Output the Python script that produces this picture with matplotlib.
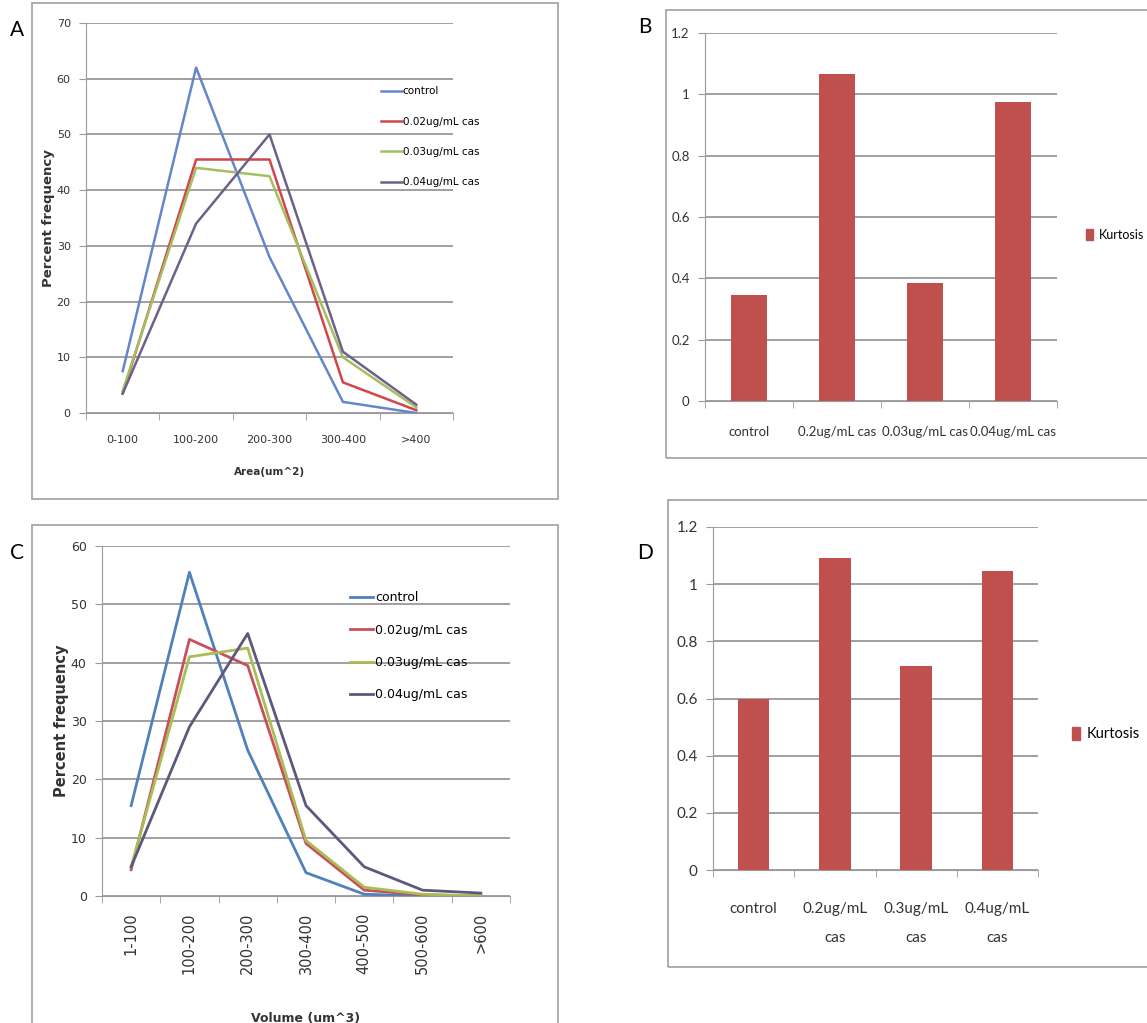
import matplotlib.pyplot as plt
from matplotlib.patches import Rectangle

# taille de l'image de référence, en pixels
W, H = 1147, 1023

# A : distribution des aires
area_bins = ["0-100", "100-200", "200-300", "300-400", ">400"]
area_control = [7.5, 62, 28, 2, 0]
area_002 = [3.5, 45.5, 45.5, 5.5, 0.5]
area_003 = [4, 44, 42.5, 10, 1]
area_004 = [3.5, 34, 50, 11, 1.5]

# C : distribution des volumes
vol_bins = ["1-100", "100-200", "200-300", "300-400", "400-500", "500-600", ">600"]
vol_control = [15.5, 55.5, 25, 4, 0.3, 0, 0]
vol_002 = [4.5, 44, 39.5, 9, 1, 0.2, 0]
vol_003 = [5, 41, 42.5, 9.5, 1.5, 0.3, 0]
vol_004 = [5, 29, 45, 15.5, 5, 1, 0.5]

series_labels = ["control", "0.02ug/mL cas", "0.03ug/mL cas", "0.04ug/mL cas"]

# B et D : kurtosis
kurt_b_labels = ["control", "0.2ug/mL cas", "0.03ug/mL cas", "0.04ug/mL cas"]
kurt_b = [0.345, 1.065, 0.385, 0.975]
kurt_d_labels = ["control", "0.2ug/mL\ncas", "0.3ug/mL\ncas", "0.4ug/mL\ncas"]
kurt_d = [0.60, 1.09, 0.715, 1.045]
kurt_yticks = ["0", "0.2", "0.4", "0.6", "0.8", "1", "1.2"]

BAR_COLOR = "#c0504d"
GRID = "#868686"
TXT = "#333333"

plt.rcParams["font.family"] = ["Lato", "DejaVu Sans"]


def add_axes_px(fig, left, top, right, bottom):
    """Crée un axes à partir de coordonnées en pixels (origine en haut à gauche)."""
    return fig.add_axes([left / W, 1 - bottom / H, (right - left) / W, (bottom - top) / H])


def add_frame(fig, x0, y0, x1, y1):
    fig.add_artist(Rectangle((x0 / W, 1 - y1 / H), (x1 - x0) / W, (y1 - y0) / H,
                             transform=fig.transFigure, fill=False,
                             edgecolor="#a0a0a0", lw=1.2))


def excel_style(ax, ymax, ystep, n, fs, xpad, ypad=4, rot=0):
    ax.set_ylim(0, ymax)
    ax.set_xlim(-0.5, n - 0.5)
    ax.set_yticks([i * ystep for i in range(int(round(ymax / ystep)) + 1)])
    ax.yaxis.grid(True, color=GRID, lw=1.1)
    ax.set_axisbelow(True)
    for s in ["top", "right"]:
        ax.spines[s].set_visible(False)
    for s in ["left", "bottom"]:
        ax.spines[s].set_color("#9a9a9a")
    ax.set_xticks(range(n))
    ax.set_xticks([i + 0.5 for i in range(-1, n)], minor=True)
    ax.tick_params(axis="x", which="major", length=0, pad=xpad, labelsize=fs,
                   labelrotation=rot, colors=TXT)
    ax.tick_params(axis="x", which="minor", length=5, color="#9a9a9a", direction="out")
    ax.tick_params(axis="y", length=5, color="#9a9a9a", labelsize=fs, colors=TXT, pad=ypad)


fig = plt.figure(figsize=(W / 100, H / 100), dpi=100)

# cadres des quatre panneaux
add_frame(fig, 32, 3, 558, 499)
add_frame(fig, 666, 10, 1160, 458)
add_frame(fig, 32, 525, 558, 1030)
add_frame(fig, 668, 500, 1160, 967)

# lettres des panneaux
for letter, x, y in [("A", 17, 30), ("B", 645, 27), ("C", 17, 553), ("D", 645, 553)]:
    fig.text(x / W, 1 - y / H, letter, fontsize=15, ha="center", va="center")

# --- A ---
colors_a = ["#6585cc", "#d0464a", "#a3c060", "#6e6189"]
ax_a = add_axes_px(fig, 86, 23, 453, 413)
for vals, lab, c in zip([area_control, area_002, area_003, area_004], series_labels, colors_a):
    ax_a.plot(range(len(area_bins)), vals, color=c, lw=1.8, label=lab)
excel_style(ax_a, 70, 10, len(area_bins), 8, xpad=16, ypad=6)
ax_a.set_xticklabels(area_bins, family="DejaVu Sans")
ax_a.set_yticks(ax_a.get_yticks(), [f"{v:g}" for v in ax_a.get_yticks()], family="DejaVu Sans")
ax_a.set_xlabel("Area(um^2)", fontsize=7.5, fontweight="bold", labelpad=16, color=TXT,
                family="DejaVu Sans")
ax_a.set_ylabel("Percent frequency", fontsize=9.5, fontweight="bold", labelpad=1, color=TXT,
                family="DejaVu Sans")
ax_a.legend(loc="upper left", bbox_to_anchor=(376 / W, 1 - 81 / H),
            bbox_transform=fig.transFigure, frameon=False,
            prop={"family": "DejaVu Sans", "size": 7.5},
            handlelength=2.0, handletextpad=0.05, labelspacing=1.95, borderpad=0)

# --- C ---
colors_c = ["#4f81bd", "#c9505a", "#a8be55", "#5e587a"]
ax_c = add_axes_px(fig, 102, 546, 510, 896)
for vals, lab, c in zip([vol_control, vol_002, vol_003, vol_004], series_labels, colors_c):
    ax_c.plot(range(len(vol_bins)), vals, color=c, lw=2.0, label=lab)
excel_style(ax_c, 60, 10, len(vol_bins), 9, xpad=12, ypad=6, rot=90)
ax_c.set_xticklabels(vol_bins, family="DejaVu Sans", fontsize=10.5)
ax_c.set_yticks(ax_c.get_yticks(), [f"{v:g}" for v in ax_c.get_yticks()], family="DejaVu Sans")
ax_c.set_xlabel("Volume (um^3)", fontsize=9, fontweight="bold", labelpad=27, color=TXT,
                family="DejaVu Sans")
ax_c.set_ylabel("Percent frequency", fontsize=10.5, fontweight="bold", labelpad=1, color=TXT,
                family="DejaVu Sans")
ax_c.legend(loc="upper left", bbox_to_anchor=(344 / W, 1 - 585 / H),
            bbox_transform=fig.transFigure, frameon=False,
            prop={"family": "DejaVu Sans", "size": 9},
            handlelength=1.8, handletextpad=0.2, labelspacing=1.55, borderpad=0)

# --- B ---
ax_b = add_axes_px(fig, 705, 33, 1057, 401)
ax_b.bar(range(len(kurt_b)), kurt_b, width=0.4, color=BAR_COLOR)
excel_style(ax_b, 1.2, 0.2, len(kurt_b), 9.5, xpad=18, ypad=6)
ax_b.set_yticklabels(kurt_yticks)
ax_b.set_xticklabels(kurt_b_labels)
fig.legend(handles=[Rectangle((0, 0), 1, 1, color=BAR_COLOR)], labels=["Kurtosis"],
           loc="center left", bbox_to_anchor=(1080 / W, 1 - 235 / H), frameon=False,
           fontsize=9, handlelength=0.55, handleheight=1.0, handletextpad=0.45, borderpad=0)

# --- D ---
ax_d = add_axes_px(fig, 713, 527, 1038, 870)
ax_d.bar(range(len(kurt_d)), kurt_d, width=0.39, color=BAR_COLOR)
excel_style(ax_d, 1.2, 0.2, len(kurt_d), 11, xpad=23, ypad=6)
ax_d.set_yticklabels(kurt_yticks)
ax_d.set_xticklabels(kurt_d_labels, linespacing=2.4)
fig.legend(handles=[Rectangle((0, 0), 1, 1, color=BAR_COLOR)], labels=["Kurtosis"],
           loc="center left", bbox_to_anchor=(1065 / W, 1 - 734 / H), frameon=False,
           fontsize=10.5, handlelength=0.55, handleheight=1.0, handletextpad=0.45, borderpad=0)

fig.savefig("out.png", dpi=100)
